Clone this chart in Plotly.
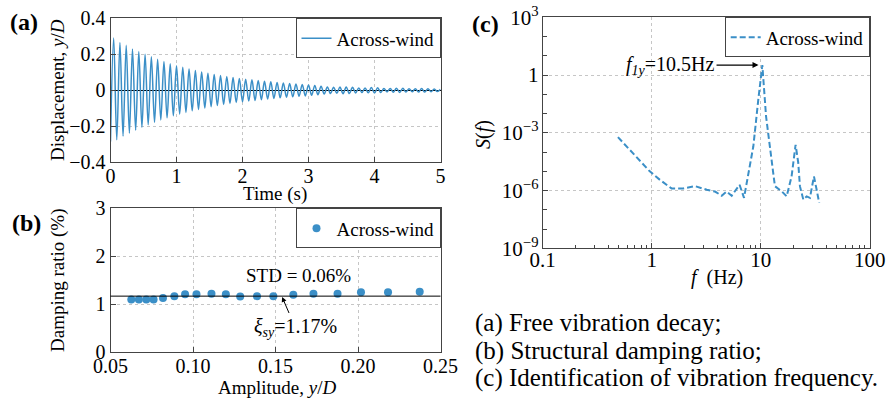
import plotly.graph_objects as go

W, H = 887, 398
FONT = "Liberation Serif"
BLUE = "#3b8fc7"

# ---------------- (a) free vibration decay: extremes (time, value) ----------------
ext_t = [0.000, 0.048, 0.095, 0.143, 0.190, 0.238, 0.286, 0.333, 0.381, 0.429, 0.476,
         0.524, 0.571, 0.619, 0.667, 0.714, 0.762, 0.810, 0.857, 0.905, 0.952,
         1.000, 1.048, 1.095, 1.143, 1.190, 1.238, 1.286, 1.333, 1.381, 1.429, 1.476,
         1.524, 1.571, 1.619, 1.667, 1.714, 1.762, 1.810, 1.857, 1.905, 1.952,
         2.000, 2.048, 2.095, 2.143, 2.190, 2.238, 2.286, 2.333, 2.381, 2.429, 2.476,
         2.524, 2.571, 2.619, 2.667, 2.714, 2.762, 2.810, 2.857, 2.905, 2.952,
         3.000, 3.048, 3.095, 3.143, 3.190, 3.238, 3.286, 3.333, 3.381, 3.429, 3.476,
         3.524, 3.571, 3.619, 3.667, 3.714, 3.762, 3.810, 3.857, 3.905, 3.952,
         4.000, 4.048, 4.095, 4.143, 4.190, 4.238, 4.286, 4.333, 4.381, 4.429, 4.476,
         4.524, 4.571, 4.619, 4.667, 4.714, 4.762, 4.810, 4.857, 4.905, 4.952, 5.000]
ext_y = [-0.285, 0.290, -0.275, 0.265, -0.255, 0.250, -0.238, 0.230, -0.222, 0.215, -0.205,
         0.200, -0.192, 0.186, -0.178, 0.172, -0.165, 0.160, -0.153, 0.148, -0.142,
         0.137, -0.132, 0.128, -0.123, 0.119, -0.114, 0.110, -0.106, 0.102, -0.098, 0.095,
         -0.091, 0.088, -0.085, 0.082, -0.079, 0.076, -0.073, 0.071, -0.068, 0.066,
         -0.064, 0.062, -0.060, 0.058, -0.056, 0.054, -0.052, 0.050, -0.048, 0.047, -0.045,
         0.044, -0.042, 0.041, -0.039, 0.038, -0.036, 0.035, -0.033, 0.032, -0.031,
         0.030, -0.028, 0.027, -0.025, 0.023, -0.021, 0.019, -0.018, 0.017, -0.017, 0.018,
         -0.019, 0.019, -0.018, 0.017, -0.015, 0.013, -0.012, 0.013, -0.014, 0.015,
         -0.015, 0.014, -0.012, 0.010, -0.009, 0.010, -0.011, 0.012, -0.012, 0.011, -0.010,
         0.009, -0.008, 0.009, -0.010, 0.010, -0.010, 0.009, -0.008, 0.007, -0.007, 0.006]

# ---------------- (b) damping ratio vs amplitude ----------------
amp = [0.0626, 0.0672, 0.0717, 0.0761, 0.0818, 0.0887, 0.0952, 0.1021, 0.1112, 0.1199,
       0.1286, 0.1388, 0.1487, 0.1608, 0.1730, 0.1876, 0.2018, 0.2182, 0.2374]
damp = [1.10, 1.10, 1.10, 1.10, 1.13, 1.17, 1.21, 1.21, 1.22, 1.21,
        1.16, 1.17, 1.17, 1.20, 1.22, 1.22, 1.25, 1.25, 1.26]
damp_mean = 1.17

# ---------------- (c) PSD ----------------
psd_f = [0.49, 0.68, 0.96, 1.19, 1.52, 1.95, 2.5, 3.2, 3.81, 4.39, 4.87, 5.42, 6.4, 7.03,
         7.7, 8.56, 9.5, 10.35, 11.2, 12.2, 13.5, 15.6, 17.3, 19.2, 20.9, 22.1, 22.9,
         24.6, 26.4, 28.3, 30.8, 32.6, 34.4]
psd_s = [6.0e-4, 8.7e-5, 1.0e-5, 3.6e-6, 1.3e-6, 1.3e-6, 1.7e-6, 1.1e-6, 8.9e-7, 5.4e-7,
         8.9e-7, 5.4e-7, 2.0e-6, 4.2e-7, 8.3e-6, 2.0e-4, 5.2e-2, 3.3, 7.1e-3, 1.3e-4,
         1.7e-6, 9.1e-7, 5.0e-7, 5.5e-6, 2.4e-4, 2.8e-5, 1.7e-6, 3.4e-7, 5.0e-7, 4.2e-7,
         5.5e-6, 1.1e-6, 2.3e-7]

captions = ["(a) Free vibration decay;",
            "(b) Structural damping ratio;",
            "(c) Identification of vibration frequency."]


def px(x):
    return x / W


def py(y):
    return 1 - y / H


fig = go.Figure()

fig.add_trace(go.Scatter(x=ext_t, y=ext_y, mode="lines", name="Across-wind",
                         line=dict(color=BLUE, width=1.5, shape="spline", smoothing=1.0),
                         xaxis="x", yaxis="y", legend="legend"))
fig.add_trace(go.Scatter(x=amp, y=damp, mode="markers", name="Across-wind",
                         marker=dict(color=BLUE, size=8),
                         xaxis="x2", yaxis="y2", legend="legend2"))
fig.add_trace(go.Scatter(x=psd_f, y=psd_s, mode="lines", name="Across-wind",
                         line=dict(color=BLUE, width=2, dash="6px,3px"),
                         xaxis="x3", yaxis="y3", legend="legend3"))


def axis_style(size=20, standoff=0):
    return dict(showline=True, linecolor="#444", linewidth=1, mirror=True,
                ticks="inside", ticklen=5, tickcolor="#444",
                showgrid=True, gridcolor="#c6c6c6", griddash="dot", gridwidth=1,
                tickfont=dict(family=FONT, size=size, color="black"), zeroline=False,
                ticklabelstandoff=standoff)


xa = (110.5, 440.5)
fig.update_layout(
    width=W, height=H, margin=dict(l=0, r=0, t=0, b=0, autoexpand=False),
    paper_bgcolor="white", plot_bgcolor="white",
    font=dict(family=FONT, color="black"),
    xaxis=dict(domain=[px(xa[0]), px(xa[1])], range=[0, 5], tickvals=[0, 1, 2, 3, 4, 5],
               anchor="y", **axis_style(20, -4)),
    yaxis=dict(domain=[py(162.3), py(18.3)], range=[-0.4, 0.4],
               tickvals=[-0.4, -0.2, 0, 0.2, 0.4], ticktext=["\u22120.4", "\u22120.2", "0", "0.2", "0.4"],
               anchor="x", **{**axis_style(20), "zeroline": True}, zerolinecolor="black", zerolinewidth=1),
    xaxis2=dict(domain=[px(xa[0]), px(xa[1])], range=[0.05, 0.25],
                tickvals=[0.05, 0.10, 0.15, 0.20, 0.25], ticktext=["0.05", "0.10", "0.15", "0.20", "0.25"],
                anchor="y2", **axis_style(20, -4)),
    yaxis2=dict(domain=[py(352.3), py(208.3)], range=[0, 3], tickvals=[0, 1, 2, 3],
                anchor="x2", **axis_style(20)),
    xaxis3=dict(domain=[px(542.7), px(869.7)], type="log", range=[-1, 2],
                tickvals=[0.1, 1, 10, 100], ticktext=["0.1", "1", "10", "100"],
                minor=dict(ticks="inside", ticklen=3, tickcolor="#444", showgrid=False,
                           tickvals=[m * 10 ** e for e in (-1, 0, 1) for m in range(2, 10)]),
                anchor="y3", **axis_style(21, -8)),
    yaxis3=dict(domain=[py(248.3), py(17.4)], type="log", range=[-9, 3],
                tickvals=[1e-9, 1e-6, 1e-3, 1, 1e3],
                ticktext=["10<sup>\u22129</sup>", "10<sup>\u22126</sup>", "10<sup>\u22123</sup>", "1", "10<sup>3</sup>"],
                minor=dict(ticks="inside", ticklen=4, tickcolor="#444", showgrid=False,
                           tickvals=[10.0 ** e for e in range(-9, 4) if e % 3 != 0]),
                anchor="x3", **axis_style(21, -1)),
    showlegend=True,
)

leg_common = dict(xanchor="right", yanchor="top", bgcolor="white", bordercolor="#444",
                  borderwidth=1, font=dict(family=FONT, size=19, color="black"),
                  itemwidth=30, tracegroupgap=0)
fig.update_layout(
    legend=dict(x=px(440.5), y=py(18.3), **leg_common),
    legend2=dict(x=px(440.5), y=py(208.3), **leg_common),
    legend3=dict(x=px(869.7), y=py(17.4), **leg_common),
)

# horizontal mean line in (b)
fig.add_shape(type="line", xref="x2 domain", yref="y2", x0=0, x1=1, y0=damp_mean, y1=damp_mean,
              line=dict(color="black", width=1))

ann = []


def text(x, y, s, size=19, angle=0, xanchor="center", **kw):
    ann.append(dict(xref="paper", yref="paper", x=px(x), y=py(y), text=s, showarrow=False,
                    textangle=angle, xanchor=xanchor, yanchor="middle",
                    font=dict(family=FONT, size=size, color="black"), **kw))


# panel labels
text(24, 22, "<b>(a)</b>", size=24)
text(26, 223, "<b>(b)</b>", size=24)
text(485, 24, "<b>(c)</b>", size=24)

# axis titles
text(58, 90, "Displacement, <i>y</i>/<i>D</i>", angle=-90)
text(275, 194, "Time (s)")
text(58, 280, "Damping ratio (%)", angle=-90)
text(277, 387, "Amplitude, <i>y</i>/<i>D</i>")
text(483, 135, "<i>S</i>(<i>f</i>)", angle=-90, size=20)
text(717, 277, "<i>f</i>  (Hz)", size=20)

# annotations in (b)
ann.append(dict(xref="x2", yref="y2", x=0.164, y=1.61, text="STD = 0.06%", showarrow=False,
                font=dict(family=FONT, size=19, color="black")))
ann.append(dict(xref="x2", yref="y2", x=0.154, y=1.152, text="<i>\u03be</i><sub><i>sy</i></sub>=1.17%",
                showarrow=True, ax=13, ay=30, arrowhead=2, arrowsize=1, arrowwidth=1,
                arrowcolor="black", font=dict(family=FONT, size=20, color="black")))

# annotation in (c)
ann.append(dict(xref="x3", yref="y3", x=0.98, y=0.52,
                text="<i>f</i><sub><i>1y</i></sub>=10.5Hz",
                showarrow=True, ax=-88, ay=0, arrowhead=2, arrowsize=1, arrowwidth=1.2,
                arrowcolor="black", font=dict(family=FONT, size=20, color="black")))

# captions
for i, (cy, c) in enumerate(zip([323, 351, 378], captions)):
    text(473, cy, c, size=25, xanchor="left")

fig.update_layout(annotations=ann)
fig.write_html("out.html")
